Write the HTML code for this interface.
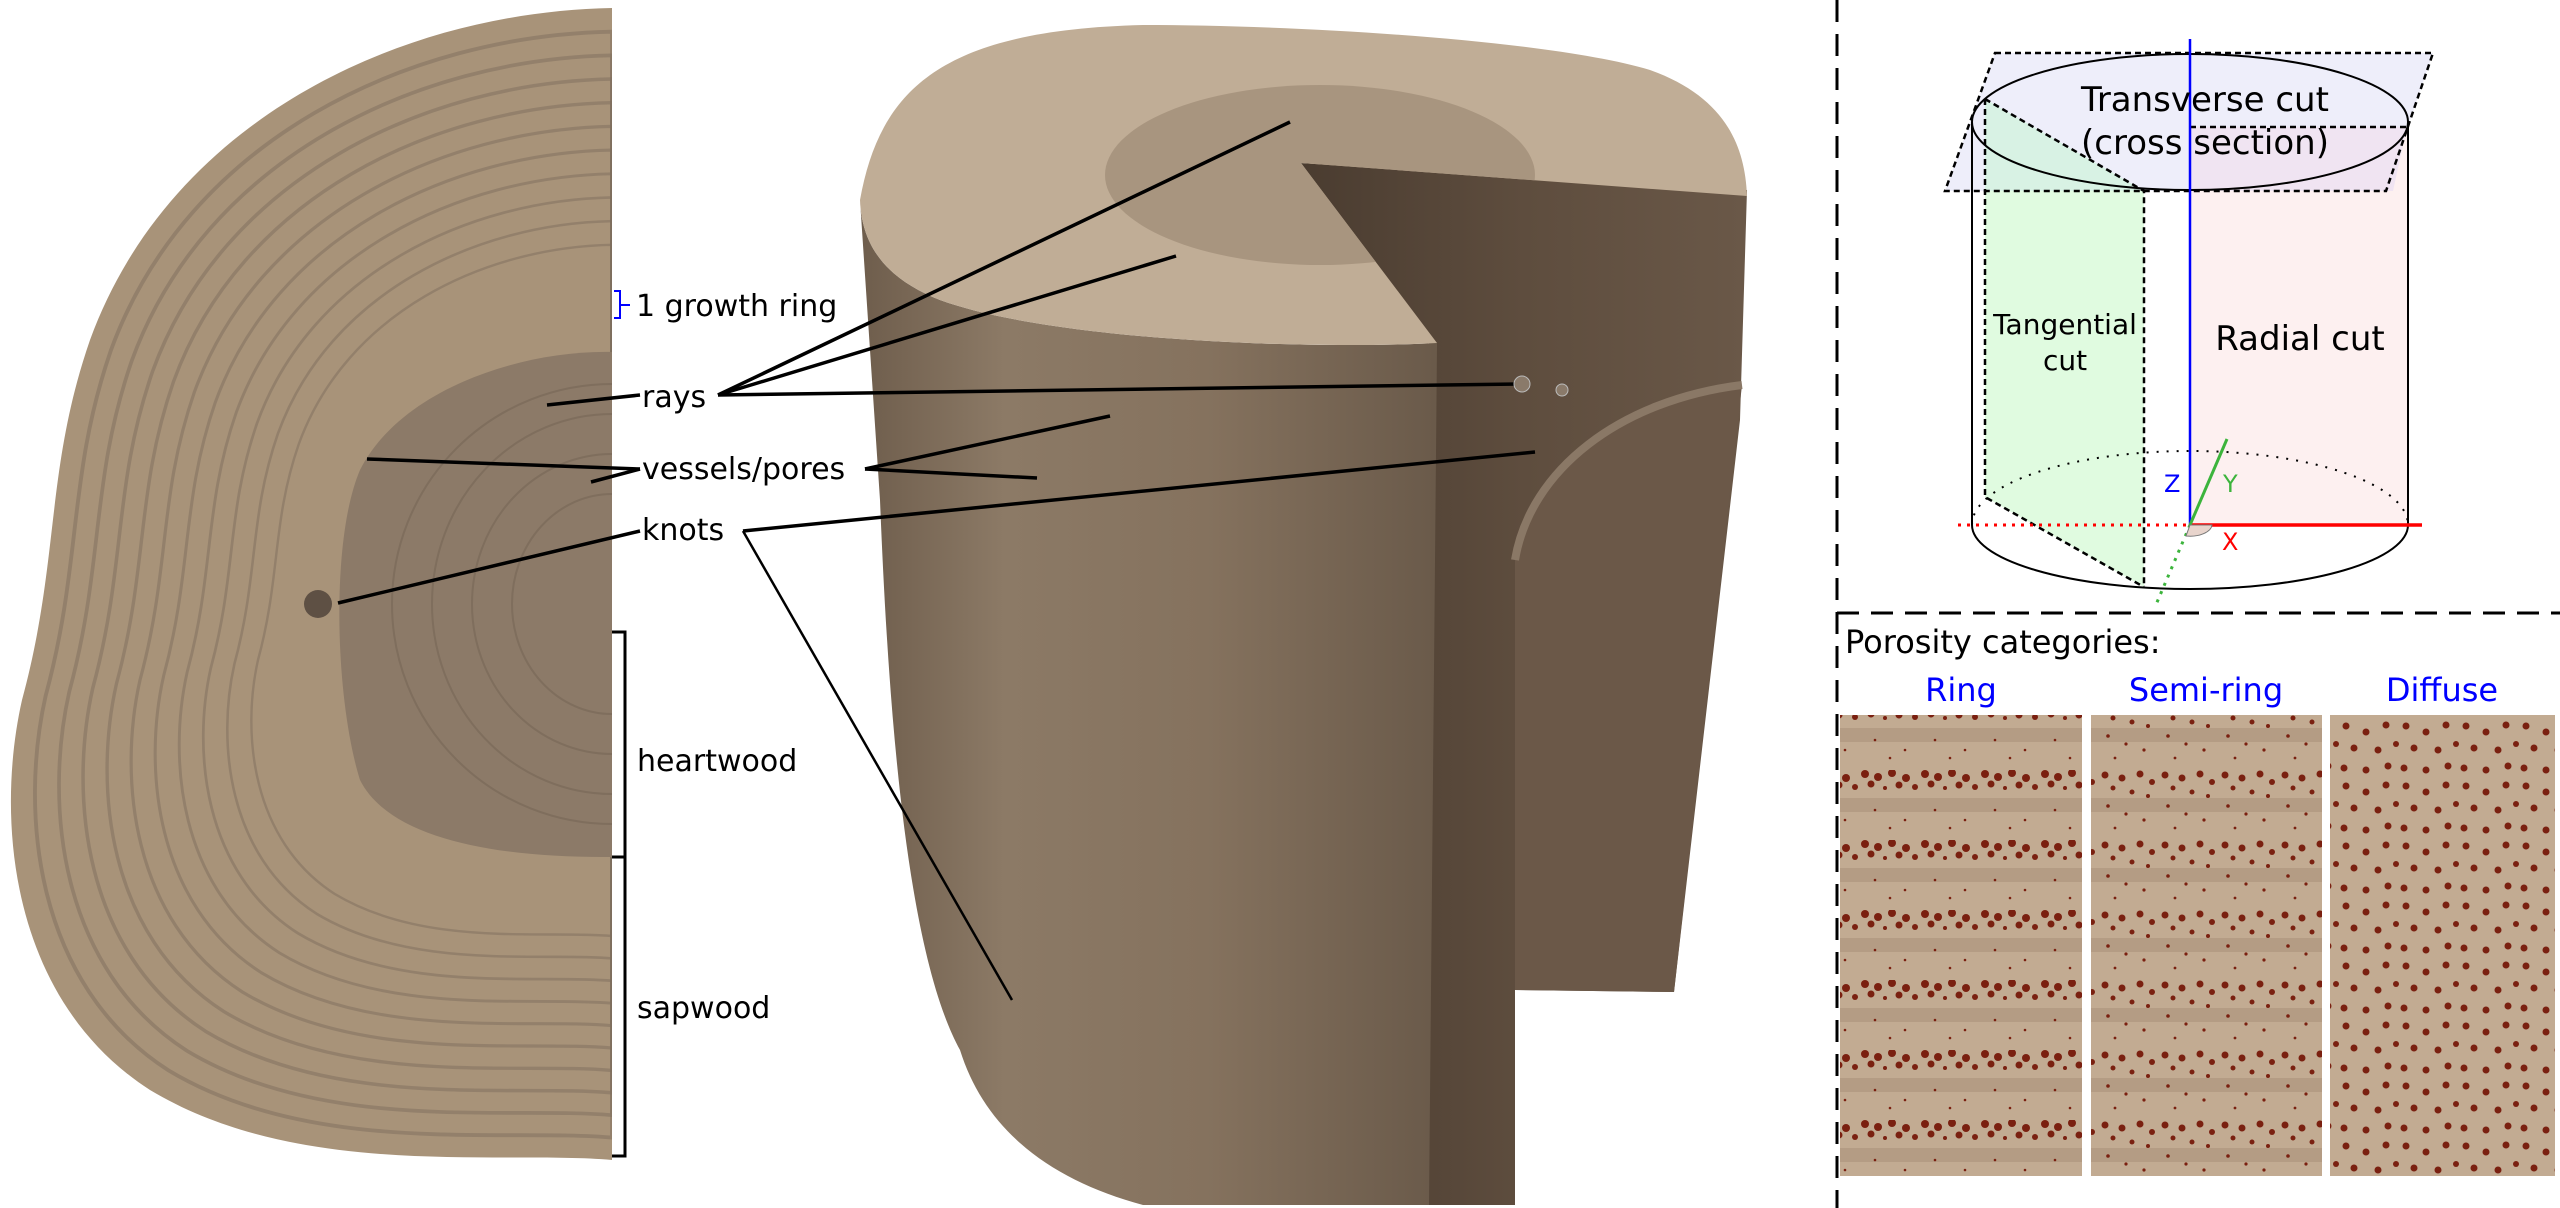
<!DOCTYPE html>
<html><head><meta charset="utf-8"><style>
html,body{margin:0;padding:0;background:#fff;}
svg{display:block;}
text{font-family:"DejaVu Sans","Liberation Sans",sans-serif;}
</style></head><body>
<svg width="2560" height="1208" viewBox="0 0 2560 1208" xmlns="http://www.w3.org/2000/svg">
<defs>
  <path id="disk" d="M612,8 C400,12 170,120 90,340 C45,470 60,560 22,700 C-5,820 10,1000 150,1090 C300,1180 500,1150 612,1160 Z"/>
  <clipPath id="diskclip"><use href="#disk"/></clipPath>
  <linearGradient id="front" x1="0" x2="1" y1="0" y2="0">
    <stop offset="0" stop-color="#6e5d4c"/>
    <stop offset="0.25" stop-color="#8c7a66"/>
    <stop offset="0.6" stop-color="#85725e"/>
    <stop offset="1" stop-color="#6a5a4a"/>
  </linearGradient>
  <linearGradient id="back" x1="0" x2="1">
    <stop offset="0" stop-color="#4a3c30"/>
    <stop offset="0.5" stop-color="#5e4d3e"/>
    <stop offset="1" stop-color="#6a5848"/>
  </linearGradient>
  <pattern id="ring" width="60" height="70" patternUnits="userSpaceOnUse">
    <rect width="60" height="70" fill="#c2ab92"/>
    <rect y="28" width="60" height="14" fill="#b49c84"/>
    <g fill="#7a2010">
      <circle cx="5" cy="4" r="4"/><circle cx="18" cy="7" r="4"/><circle cx="32" cy="3" r="4"/><circle cx="46" cy="8" r="4"/>
      <circle cx="11" cy="14" r="3.5"/><circle cx="39" cy="15" r="3.5"/><circle cx="25" cy="18" r="2"/><circle cx="55" cy="17" r="3"/>
      <circle cx="15" cy="40" r="1.3"/><circle cx="45" cy="50" r="1.3"/><circle cx="30" cy="58" r="1.3"/>
    </g>
  </pattern>
  <pattern id="semi" width="60" height="70" patternUnits="userSpaceOnUse">
    <rect width="60" height="70" fill="#c2ab92"/>
    <rect y="28" width="60" height="14" fill="#b49c84"/>
    <g fill="#7a2010">
      <circle cx="5" cy="5" r="3.5"/><circle cx="22" cy="8" r="3.5"/><circle cx="40" cy="4" r="3.5"/><circle cx="52" cy="12" r="3"/>
      <circle cx="13" cy="18" r="2.5"/><circle cx="32" cy="22" r="2.5"/><circle cx="48" cy="26" r="2"/>
      <circle cx="8" cy="36" r="1.8"/><circle cx="26" cy="44" r="1.6"/><circle cx="44" cy="50" r="1.6"/><circle cx="15" cy="58" r="1.4"/>
    </g>
  </pattern>
  <pattern id="diff" width="60" height="60" patternUnits="userSpaceOnUse">
    <rect width="60" height="60" fill="#c2ab92"/>
    <g fill="#7a2010">
      <circle cx="6" cy="6" r="3.5"/><circle cx="26" cy="12" r="3.5"/><circle cx="46" cy="5" r="3.5"/>
      <circle cx="14" cy="28" r="3.5"/><circle cx="38" cy="30" r="3.5"/><circle cx="56" cy="24" r="3"/>
      <circle cx="4" cy="48" r="3.5"/><circle cx="26" cy="50" r="3.5"/><circle cx="48" cy="46" r="3.5"/>
    </g>
  </pattern>
  <clipPath id="topclip"><path d="M860,200 C880,90 940,30 1143,25 C1300,25 1550,40 1650,70 C1720,95 1745,140 1747,196 L1301,163 L1437,343 C1300,350 1050,340 940,300 C890,280 862,250 860,200 Z"/></clipPath>
</defs>

<!-- LEFT DISK -->
<use href="#disk" fill="#a89379"/>
<g clip-path="url(#diskclip)">
<g fill="none" stroke="#7d6d5d" stroke-width="4" stroke-opacity="0.5">
  <use href="#disk" transform="translate(612,600) scale(0.96) translate(-612,-600)"/>
  <use href="#disk" transform="translate(612,600) scale(0.92) translate(-612,-600)"/>
  <use href="#disk" transform="translate(612,600) scale(0.88) translate(-612,-600)"/>
  <use href="#disk" transform="translate(612,600) scale(0.84) translate(-612,-600)"/>
  <use href="#disk" transform="translate(612,600) scale(0.80) translate(-612,-600)"/>
  <use href="#disk" transform="translate(612,600) scale(0.76) translate(-612,-600)"/>
  <use href="#disk" transform="translate(612,600) scale(0.72) translate(-612,-600)"/>
  <use href="#disk" transform="translate(612,600) scale(0.68) translate(-612,-600)"/>
  <use href="#disk" transform="translate(612,600) scale(0.64) translate(-612,-600)"/>
  <use href="#disk" transform="translate(612,600) scale(0.60) translate(-612,-600)"/>
</g>
<path d="M612,352 C520,350 400,390 360,470 C330,540 335,700 360,780 C390,840 500,858 612,857 Z" fill="#8c7a68"/>
<g fill="none" stroke="#6f6050" stroke-width="2" stroke-opacity="0.45">
  <ellipse cx="612" cy="604" rx="220" ry="220"/>
  <ellipse cx="612" cy="604" rx="180" ry="190"/>
  <ellipse cx="612" cy="604" rx="140" ry="150"/>
  <ellipse cx="612" cy="604" rx="100" ry="110"/>
</g>
</g>
<rect x="612" y="0" width="20" height="1208" fill="#fff"/>
<circle cx="318" cy="604" r="14" fill="#5e5044"/>

<!-- STUMP -->
<path d="M1301,163 L1747,190 L1740,420 L1674,992 L1515,990 L1515,1205 L1429,1205 L1429,343 Z" fill="url(#back)"/>
<path d="M1515,990 L1515,560 C1530,470 1620,400 1742,385 L1674,992 Z" fill="#6b5848"/>
<path d="M1515,560 C1530,470 1620,400 1742,385" fill="none" stroke="#8a7866" stroke-width="8"/>
<path d="M860,200 C862,250 890,280 940,300 C1050,340 1300,350 1437,343 L1429,1205 L1143,1205 C1050,1180 985,1130 960,1050 C905,950 888,700 880,500 Z" fill="url(#front)"/>
<path d="M860,200 C880,90 940,30 1143,25 C1300,25 1550,40 1650,70 C1720,95 1745,140 1747,196 L1301,163 L1437,343 C1300,350 1050,340 940,300 C890,280 862,250 860,200 Z" fill="#c0ad96"/>
<g clip-path="url(#topclip)">
  <ellipse cx="1320" cy="175" rx="215" ry="90" fill="#a8957f"/>
</g>

<!-- RIGHT PANEL -->
<g fill="none" stroke="#000" stroke-width="3" stroke-dasharray="22,12">
  <line x1="1837" y1="0" x2="1837" y2="1208"/>
  <line x1="1837" y1="613" x2="2560" y2="613"/>
</g>
<path d="M1995,53 L2433,53 L2386,191 L1945,191 Z" fill="#eeeefa"/>
<path d="M2190,127 L2407,127 L2407,525 L2190,525 Z" fill="#fdf0f0"/>
<path d="M2190,127 L2407,127 L2393,191 L2190,191 Z" fill="#f0e4f2"/>
<path d="M1985,99 L2144,191 L2144,587 L1985,497 Z" fill="#e0fbe0"/>
<path d="M1985,99 L2144,191 L1985,191 Z" fill="#d8f2e4"/>
<ellipse cx="2190" cy="122" rx="218" ry="68" fill="none" stroke="#000" stroke-width="2"/>
<path d="M1972,122 L1972,525 A218,64 0 0 0 2408,525 L2408,122" fill="none" stroke="#000" stroke-width="2"/>
<path d="M1972,525 A218,74 0 0 1 2408,525" fill="none" stroke="#000" stroke-width="2" stroke-dasharray="2,8"/>
<g fill="none" stroke="#000" stroke-width="2.5" stroke-dasharray="6,4">
  <path d="M1995,53 L2433,53 L2386,191 L1945,191 Z"/>
  <path d="M1985,99 L2144,191 L2144,587 M1985,99 L1985,497 L2144,587"/>
  <line x1="2190" y1="127" x2="2407" y2="127"/>
</g>
<line x1="2190" y1="39" x2="2190" y2="525" stroke="#0000ff" stroke-width="2.5"/>
<line x1="1958" y1="525" x2="2190" y2="525" stroke="#ff0000" stroke-width="3" stroke-dasharray="3,6"/>
<line x1="2190" y1="525" x2="2422" y2="525" stroke="#ff0000" stroke-width="3.5"/>
<line x1="2190" y1="525" x2="2227" y2="439" stroke="#3cb43c" stroke-width="3"/>
<line x1="2190" y1="525" x2="2155" y2="607" stroke="#3cb43c" stroke-width="3" stroke-dasharray="3,6"/>
<path d="M2190,525 L2212,525 A22,12 0 0 1 2186,536 Z" fill="#e8d4cc" stroke="#777" stroke-width="1"/>
<text x="2205" y="111" font-size="34" text-anchor="middle">Transverse cut</text>
<text x="2205" y="154" font-size="34" text-anchor="middle">(cross section)</text>
<text x="2065" y="334" font-size="28" text-anchor="middle">Tangential</text>
<text x="2065" y="370" font-size="28" text-anchor="middle">cut</text>
<text x="2300" y="350" font-size="34" text-anchor="middle">Radial cut</text>
<text x="2164" y="492" font-size="24" fill="#0000ff">Z</text>
<text x="2223" y="492" font-size="24" fill="#3cb43c">Y</text>
<text x="2222" y="550" font-size="24" fill="#ff0000">X</text>

<text x="1845" y="653" font-size="32">Porosity categories:</text>
<text x="1961" y="701" font-size="32" fill="#0000ff" text-anchor="middle">Ring</text>
<text x="2206" y="701" font-size="32" fill="#0000ff" text-anchor="middle">Semi-ring</text>
<text x="2442" y="701" font-size="32" fill="#0000ff" text-anchor="middle">Diffuse</text>
<rect x="1840" y="715" width="242" height="461" fill="url(#ring)"/>
<rect x="2091" y="715" width="231" height="461" fill="url(#semi)"/>
<rect x="2330" y="715" width="225" height="461" fill="url(#diff)"/>

<!-- LABELS -->
<path d="M614,291 L620,291 L620,318 L614,318 M620,305 L630,305" fill="none" stroke="#0000ff" stroke-width="2"/>
<text x="636" y="316" font-size="30">1 growth ring</text>
<text x="642" y="407" font-size="30">rays</text>
<text x="642" y="479" font-size="30">vessels/pores</text>
<text x="642" y="540" font-size="30">knots</text>
<text x="637" y="771" font-size="30">heartwood</text>
<text x="637" y="1018" font-size="30">sapwood</text>
<path d="M612,632 L625,632 L625,1156 L612,1156 M612,857 L625,857" fill="none" stroke="#000" stroke-width="3"/>
<g stroke="#000" stroke-width="3.5" fill="none">
  <line x1="547" y1="405" x2="640" y2="395"/>
  <line x1="718" y1="395" x2="1290" y2="122"/>
  <line x1="718" y1="395" x2="1176" y2="256"/>
  <line x1="718" y1="395" x2="1519" y2="384"/>
  <line x1="367" y1="459" x2="640" y2="469"/>
  <line x1="591" y1="482" x2="640" y2="469"/>
  <line x1="865" y1="469" x2="1110" y2="416"/>
  <line x1="865" y1="469" x2="1037" y2="478"/>
  <line x1="338" y1="603" x2="640" y2="531"/>
  <line x1="743" y1="531" x2="1535" y2="452"/>
  <line x1="743" y1="531" x2="1012" y2="1000" stroke-width="2.5"/>
</g>
<circle cx="1522" cy="384" r="8" fill="#8a7a6a" stroke="#bbb" stroke-width="1"/>
<circle cx="1562" cy="390" r="6" fill="#8a7a6a" stroke="#bbb" stroke-width="1"/>
</svg>
</body></html>
